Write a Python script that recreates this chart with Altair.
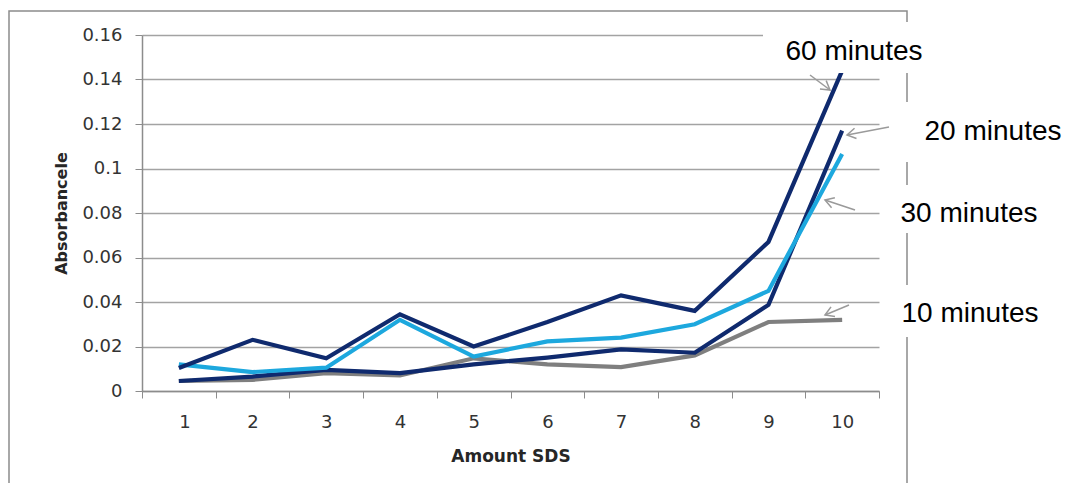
import altair as alt
import pandas as pd

# ---- data ----
sds = [1, 2, 3, 4, 5, 6, 7, 8, 9, 10]
series_names = ["10 minutes", "20 minutes", "30 minutes", "60 minutes"]
m10 = [0.0045, 0.005, 0.008, 0.007, 0.0147, 0.012, 0.0107, 0.016, 0.031, 0.032]
m20 = [0.0045, 0.0065, 0.0095, 0.008, 0.012, 0.015, 0.0187, 0.0172, 0.0387, 0.117]
m30 = [0.012, 0.0085, 0.0105, 0.032, 0.0155, 0.0223, 0.024, 0.030, 0.045, 0.1065]
m60 = [0.0103, 0.023, 0.0147, 0.0345, 0.020, 0.031, 0.043, 0.036, 0.067, 0.144]
y_ticks = [0, 0.02, 0.04, 0.06, 0.08, 0.1, 0.12, 0.14, 0.16]

colors = ["#7F7F7F", "#0F2A6E", "#1DA8DE", "#0F2A6E"]

rows = []
for name, vals in zip(series_names, [m10, m20, m30, m60]):
    for s, v in zip(sds, vals):
        rows.append({"sds": s, "value": v, "series": name})
df = pd.DataFrame(rows)

W, H = 737, 356
band = W / len(sds)
boundaries = [s - 0.5 for s in sds] + [sds[-1] + 0.5]

xscale = alt.Scale(domain=[sds[0] - 0.5, sds[-1] + 0.5], nice=False, zero=False)
yscale = alt.Scale(domain=[0, 0.16], nice=False)

one = pd.DataFrame({"a": [0]})

# outer frame
frame = alt.Chart(one).mark_rect(fill=None, stroke="#8C8C8C", strokeWidth=1.5).encode(
    x=alt.value(-133), x2=alt.value(765), y=alt.value(-24), y2=alt.value(470)
)

lines = alt.Chart(df).mark_line(strokeWidth=4.2).encode(
    x=alt.X("sds:Q", scale=xscale,
            axis=alt.Axis(values=boundaries, grid=False, title="Amount SDS",
                          labelExpr=f"datum.value < {sds[-1]} ? toString(datum.value + 0.5) : ''",
                          labelOffset=band / 2, tickSize=7, tickColor="#8C8C8C",
                          labelPadding=24, labelBaseline="middle",
                          domainColor="#8C8C8C", domainWidth=1.5,
                          titleX=W / 2, titleY=65, titleBaseline="middle")),
    y=alt.Y("value:Q", scale=yscale,
            axis=alt.Axis(values=y_ticks, format="~g", title="Absorbancele",
                          grid=True, gridColor="#A3A3A3", gridWidth=1.4,
                          tickSize=7, tickColor="#8C8C8C", domainColor="#8C8C8C",
                          domainWidth=1.5, labelPadding=13, labelBaseline="middle",
                          titleX=-81, titleY=H / 2, titleAngle=-90,
                          titleAlign="center", titleBaseline="middle")),
    color=alt.Color("series:N", scale=alt.Scale(domain=series_names, range=colors), legend=None),
    detail="series:N",
)

layers = [frame, lines]

# white boxes behind labels: (x, x2, y, y2) relative to plot origin
boxes = [(621, 795, -13, 38), (748, 922, 67, 127), (743, 922, 150, 198), (743, 922, 250, 302)]
for bx, bx2, by, by2 in boxes:
    layers.append(alt.Chart(one).mark_rect(fill="white", stroke=None).encode(
        x=alt.value(bx), x2=alt.value(bx2), y=alt.value(by), y2=alt.value(by2)))

# labels (center positions relative to plot origin)
labels = [("60 minutes", 712, 16.5), ("20 minutes", 851, 96.5),
          ("30 minutes", 827, 179), ("10 minutes", 828, 279)]
for txt, tx, ty in labels:
    layers.append(alt.Chart(one).mark_text(
        text=txt, font="Liberation Sans", fontSize=28, color="black",
        align="center", baseline="middle").encode(x=alt.value(tx), y=alt.value(ty)))

# arrows: tail -> head, with head angle
arrows = [((668, 40), (688, 55), 36.9), ((747, 92), (705, 100), 169.2),
          ((713, 175), (683, 165), 198.4), ((707, 270), (683, 280), 157.4)]
for (tx0, ty0), (hx, hy), ang in arrows:
    layers.append(alt.Chart(one).mark_rule(color="#9A9A9A", strokeWidth=1.5).encode(
        x=alt.value(tx0), x2=alt.value(hx), y=alt.value(ty0), y2=alt.value(hy)))
    layers.append(alt.Chart(one).mark_point(
        shape="M-1,-0.6L0,0L-1,0.6", filled=False, stroke="#9A9A9A", strokeWidth=1.5,
        size=300, angle=ang, opacity=1).encode(x=alt.value(hx), y=alt.value(hy)))

chart = alt.layer(*layers).properties(
    width=W, height=H,
    autosize=alt.AutoSizeParams(type="none"),
    padding={"left": 134, "top": 27, "right": 185, "bottom": 92},
).configure_view(stroke=None).configure_axis(
    labelFont="DejaVu Sans", labelFontSize=18, labelColor="#333333",
    titleFont="DejaVu Sans", titleFontSize=16, titleFontWeight="bold", titleColor="#262626",
).configure_axisX(titleFontSize=17)

chart.save("out.html", embed_options={"renderer": "svg", "actions": False})
